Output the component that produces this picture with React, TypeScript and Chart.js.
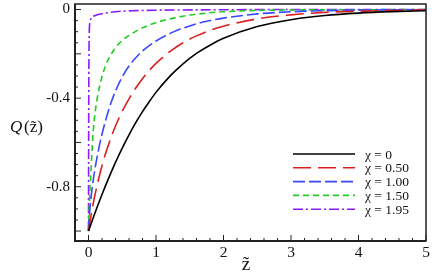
import React, { useEffect, useRef } from 'react';
import { Chart, registerables } from 'chart.js';

Chart.register(...registerables);

// ---- data ----
const seriesLabels = ['χ = 0', 'χ = 0.50', 'χ = 1.00', 'χ = 1.50', 'χ = 1.95'];

const z0 = [0, 0.1, 0.2, 0.3, 0.4, 0.5, 0.6, 0.7, 0.8, 0.9, 1.0, 1.2, 1.4, 1.6, 1.8, 2.0, 2.5, 3.0, 3.5, 4.0, 4.5, 5.0];
const q0 = [-1, -0.915, -0.835, -0.76, -0.69, -0.626, -0.566, -0.511, -0.461, -0.416, -0.374, -0.303, -0.245, -0.198, -0.161, -0.13, -0.077, -0.046, -0.027, -0.016, -0.0095, -0.0055];

const z050 = [0, 0.05, 0.1, 0.2, 0.3, 0.4, 0.5, 0.6, 0.7, 0.8, 0.9, 1.0, 1.2, 1.4, 1.6, 1.8, 2.0, 2.5, 3.0, 3.5, 4.0, 4.5, 5.0];
const q050 = [-1, -0.909, -0.831, -0.705, -0.607, -0.526, -0.459, -0.403, -0.354, -0.312, -0.275, -0.243, -0.191, -0.15, -0.119, -0.094, -0.075, -0.042, -0.024, -0.013, -0.0075, -0.0042, -0.0024];

const z100 = [0, 0.02, 0.05, 0.1, 0.15, 0.2, 0.3, 0.4, 0.5, 0.6, 0.7, 0.8, 1.0, 1.25, 1.5, 1.75, 2.0, 2.5, 3.0, 3.5, 4.0, 5.0];
const q100 = [-1, -0.905, -0.815, -0.712, -0.631, -0.563, -0.452, -0.368, -0.304, -0.255, -0.218, -0.187, -0.142, -0.102, -0.074, -0.053, -0.0386, -0.0197, -0.01, -0.005, -0.0025, -0.0006];

const z150 = [0, 0.01, 0.02, 0.035, 0.05, 0.075, 0.1, 0.125, 0.175, 0.25, 0.3, 0.4, 0.5, 0.6, 0.75, 0.9, 1.1, 1.3, 1.5, 1.75, 2.0, 2.5, 3.0, 4.0, 5.0];
const q150 = [-1, -0.9, -0.82, -0.74, -0.65, -0.53, -0.46, -0.408, -0.332, -0.255, -0.222, -0.172, -0.14, -0.117, -0.09, -0.07, -0.05, -0.036, -0.025, -0.016, -0.01, -0.004, -0.002, -0.001, 0];

const z195 = [0, 0.002, 0.005, 0.01, 0.02, 0.04, 0.1, 0.2, 0.4, 0.7, 1.0, 2.0, 3.0, 5.0];
const q195 = [-1, -0.6, -0.3, -0.12, -0.06, -0.04, -0.027, -0.019, -0.01, -0.005, -0.003, -0.001, 0, 0];

const xTickValues = [0, 1, 2, 3, 4, 5];
const xTickLabels = ['0', '1', '2', '3', '4', '5'];
const xMinorTicks = [0.2, 0.4, 0.6, 0.8, 1.2, 1.4, 1.6, 1.8, 2.2, 2.4, 2.6, 2.8, 3.2, 3.4, 3.6, 3.8, 4.2, 4.4, 4.6, 4.8];

const yTickValues = [-0.8, -0.4, 0];
const yTickLabels = ['-0.8', '-0.4', '0'];
const yMajorTicks = [0, -0.2, -0.4, -0.6, -0.8, -1.0];
const yMinorTicks = [-0.05, -0.1, -0.15, -0.25, -0.3, -0.35, -0.45, -0.5, -0.55, -0.65, -0.7, -0.75, -0.85, -0.9, -0.95];

const colors = ['#000000', '#dd1f1f', '#3a48ff', '#22cc22', '#8c1cff'];
const dashes: number[][] = [[], [18, 7], [12, 4], [6, 4], [10, 3, 2, 3]];

const SERIF = '"Liberation Serif", serif';

const decorPlugin = {
  id: 'decor',
  afterDraw(chart: any) {
    const { ctx, chartArea: a, scales } = chart;
    const xs = scales.x;
    const ys = scales.y;
    ctx.save();
    ctx.strokeStyle = '#222';
    ctx.setLineDash([]);
    ctx.lineWidth = 1;
    const seg = (x1: number, y1: number, x2: number, y2: number) => {
      ctx.beginPath();
      ctx.moveTo(x1, y1);
      ctx.lineTo(x2, y2);
      ctx.stroke();
    };
    xTickValues.forEach((v) => {
      const p = xs.getPixelForValue(v);
      seg(p, a.bottom, p, a.bottom - 6);
    });
    xMinorTicks.forEach((v) => {
      const p = xs.getPixelForValue(v);
      seg(p, a.bottom, p, a.bottom - 3);
    });
    yMajorTicks.forEach((v) => {
      const p = ys.getPixelForValue(v);
      seg(a.left, p, a.left + 6, p);
    });
    yMinorTicks.forEach((v) => {
      const p = ys.getPixelForValue(v);
      seg(a.left, p, a.left + 3, p);
    });
    // frame
    ctx.lineWidth = 1.5;
    ctx.strokeRect(a.left, a.top, a.right - a.left, a.bottom - a.top);
    ctx.lineWidth = 2;
    seg(a.left, a.top, a.left, a.bottom + 1);
    seg(a.left - 1, a.bottom, a.right, a.bottom);

    // axis titles
    ctx.fillStyle = '#111';
    ctx.textBaseline = 'alphabetic';
    ctx.textAlign = 'left';
    ctx.font = `italic 17px ${SERIF}`;
    ctx.fillText('Q', 10, 132);
    ctx.font = `17px ${SERIF}`;
    ctx.fillText('(z\u0303)', 24, 132);
    ctx.font = `19px ${SERIF}`;
    ctx.textAlign = 'center';
    ctx.fillText('z\u0303', 246, 270);

    // legend
    const lx1 = 293;
    const lx2 = 355;
    const ly0 = 154;
    const dy = 13.8;
    ctx.font = `13.5px ${SERIF}`;
    ctx.textAlign = 'left';
    ctx.textBaseline = 'middle';
    chart.data.datasets.forEach((ds: any, i: number) => {
      const y = ly0 + i * dy;
      ctx.strokeStyle = ds.borderColor;
      ctx.lineWidth = ds.borderWidth;
      ctx.setLineDash(ds.borderDash || []);
      seg(lx1, y, lx2, y);
      ctx.setLineDash([]);
      ctx.fillStyle = '#111';
      ctx.fillText(ds.label, 365, y + 1);
    });
    ctx.restore();
  },
};

export default function App() {
  const ref = useRef<HTMLCanvasElement | null>(null);
  useEffect(() => {
    if (!ref.current) return;
    const zs = [z0, z050, z100, z150, z195];
    const qs = [q0, q050, q100, q150, q195];
    const chart = new Chart(ref.current, {
      type: 'line',
      data: {
        datasets: zs.map((z, i) => ({
          label: seriesLabels[i],
          data: z.map((x, j) => ({ x, y: qs[i][j] })),
          borderColor: colors[i],
          borderWidth: 1.6,
          borderDash: dashes[i],
          pointRadius: 0,
          fill: false,
          cubicInterpolationMode: 'monotone' as const,
        })),
      },
      options: {
        responsive: false,
        animation: false,
        devicePixelRatio: 1,
        layout: { padding: { top: 4, right: 10, left: 0, bottom: 0 } },
        plugins: { legend: { display: false }, tooltip: { enabled: false }, title: { display: false } },
        scales: {
          x: {
            type: 'linear',
            min: -0.2,
            max: 5,
            grid: { display: false, drawTicks: false },
            border: { display: false },
            ticks: {
              autoSkip: false,
              maxRotation: 0,
              padding: 3,
              color: '#111',
              font: { family: SERIF, size: 15.5 },
              callback: (v: any) => {
                const k = xTickValues.indexOf(Number(v));
                return k >= 0 ? xTickLabels[k] : '';
              },
            },
            afterBuildTicks: (s: any) => {
              s.ticks = xTickValues.map((v) => ({ value: v }));
            },
            afterFit: (s: any) => {
              s.height = 35;
              s.paddingLeft = 0;
              s.paddingRight = 0;
            },
          },
          y: {
            type: 'linear',
            min: -1.045,
            max: 0.025,
            grid: { display: false, drawTicks: false },
            border: { display: false },
            ticks: {
              autoSkip: false,
              padding: 5,
              color: '#111',
              font: { family: SERIF, size: 15 },
              callback: (v: any) => {
                const k = yTickValues.findIndex((t) => Math.abs(t - Number(v)) < 1e-9);
                return k >= 0 ? yTickLabels[k] : '';
              },
            },
            afterBuildTicks: (s: any) => {
              s.ticks = yTickValues.map((v) => ({ value: v }));
            },
            afterFit: (s: any) => {
              s.width = 75;
              s.paddingTop = 0;
              s.paddingBottom = 0;
            },
          },
        },
      },
      plugins: [decorPlugin],
    });
    return () => chart.destroy();
  }, []);
  return (
    <div style={{ position: 'fixed', left: 0, top: 0, width: 436, height: 276, background: '#fff' }}>
      <canvas ref={ref} width={436} height={276} style={{ display: 'block' }} />
    </div>
  );
}
